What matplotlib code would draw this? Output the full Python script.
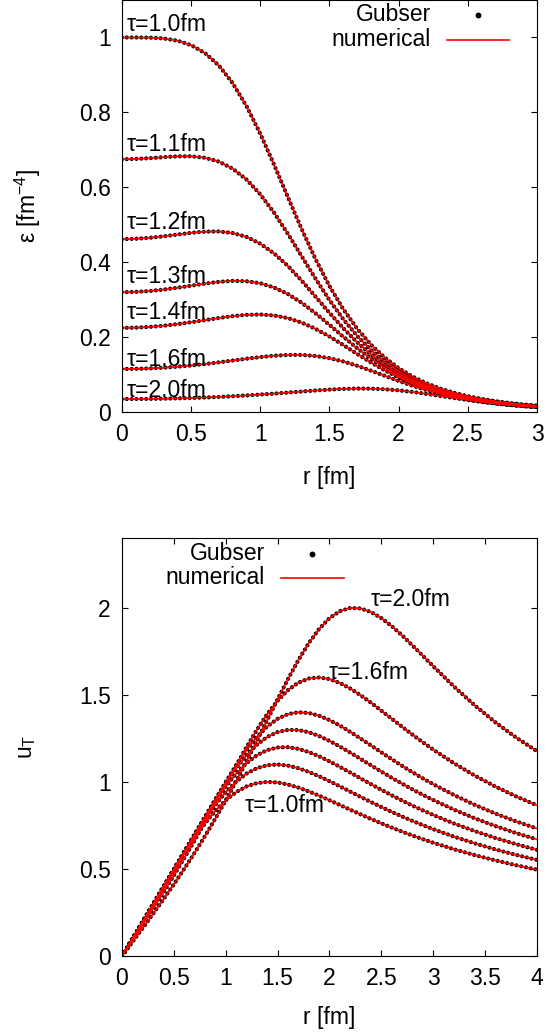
import matplotlib
matplotlib.use('Agg')
import matplotlib.pyplot as plt
from matplotlib.ticker import FormatStrFormatter

plt.rcParams['font.family'] = ['Liberation Sans', 'DejaVu Sans']
plt.rcParams['mathtext.fontset'] = 'custom'
plt.rcParams['mathtext.rm'] = 'Liberation Sans'
plt.rcParams['mathtext.it'] = 'Liberation Sans:italic'
plt.rcParams['mathtext.default'] = 'regular'

# ---------------- data ----------------
tau_labels = ['τ=1.0fm', 'τ=1.1fm', 'τ=1.2fm', 'τ=1.3fm', 'τ=1.4fm', 'τ=1.6fm', 'τ=2.0fm']

r_eps = [0.0, 0.1, 0.2, 0.3, 0.4, 0.5, 0.6, 0.7, 0.8, 0.9, 1.0, 1.1, 1.2, 1.3, 1.4, 1.5,
         1.6, 1.7, 1.8, 1.9, 2.0, 2.1, 2.2, 2.3, 2.4, 2.5, 2.6, 2.7, 2.8, 2.9, 3.0]

eps_t10 = [1.0000, 1.0000, 0.9995, 0.9973, 0.9915, 0.9795, 0.9584, 0.9252, 0.8781, 0.8167, 0.7427,
           0.6598, 0.5730, 0.4875, 0.4076, 0.3361, 0.2743, 0.2224, 0.1796, 0.1449, 0.1170,
           0.0946, 0.0768, 0.0625, 0.0512, 0.0421, 0.0348, 0.0289, 0.0241, 0.0202, 0.0170]
eps_t11 = [0.6748, 0.6756, 0.6776, 0.6803, 0.6825, 0.6827, 0.6788, 0.6685, 0.6497, 0.6207, 0.5810,
           0.5317, 0.4753, 0.4152, 0.3553, 0.2986, 0.2475, 0.2030, 0.1654, 0.1342, 0.1087,
           0.0881, 0.0716, 0.0583, 0.0477, 0.0391, 0.0323, 0.0268, 0.0223, 0.0186, 0.0157]
eps_t12 = [0.4615, 0.4624, 0.4650, 0.4689, 0.4736, 0.4783, 0.4815, 0.4820, 0.4778, 0.4674, 0.4493,
           0.4232, 0.3896, 0.3502, 0.3076, 0.2646, 0.2235, 0.1861, 0.1534, 0.1255, 0.1023,
           0.0832, 0.0677, 0.0552, 0.0451, 0.0370, 0.0305, 0.0252, 0.0210, 0.0175, 0.0147]
eps_t13 = [0.3198, 0.3206, 0.3229, 0.3267, 0.3316, 0.3372, 0.3428, 0.3474, 0.3500, 0.3491, 0.3436,
           0.3323, 0.3147, 0.2913, 0.2632, 0.2324, 0.2008, 0.1704, 0.1426, 0.1180, 0.0969,
           0.0793, 0.0647, 0.0528, 0.0432, 0.0354, 0.0292, 0.0241, 0.0200, 0.0167, 0.0140]
eps_t14 = [0.2245, 0.2251, 0.2271, 0.2302, 0.2345, 0.2396, 0.2452, 0.2508, 0.2558, 0.2593, 0.2602,
           0.2576, 0.2505, 0.2385, 0.2218, 0.2014, 0.1786, 0.1550, 0.1321, 0.1110, 0.0922,
           0.0760, 0.0624, 0.0511, 0.0419, 0.0343, 0.0282, 0.0233, 0.0193, 0.0161, 0.0134]
eps_t16 = [0.1148, 0.1152, 0.1163, 0.1182, 0.1208, 0.1241, 0.1280, 0.1325, 0.1373, 0.1421, 0.1466,
           0.1502, 0.1523, 0.1523, 0.1495, 0.1436, 0.1348, 0.1234, 0.1103, 0.0965, 0.0828,
           0.0700, 0.0586, 0.0486, 0.0401, 0.0331, 0.0273, 0.0225, 0.0186, 0.0154, 0.0128]
eps_t20 = [0.0345, 0.0346, 0.0349, 0.0355, 0.0363, 0.0373, 0.0386, 0.0401, 0.0420, 0.0441, 0.0464,
           0.0490, 0.0518, 0.0546, 0.0573, 0.0597, 0.0615, 0.0624, 0.0622, 0.0606, 0.0577,
           0.0535, 0.0484, 0.0428, 0.0372, 0.0318, 0.0269, 0.0225, 0.0188, 0.0156, 0.0130]

r_u = [0.0, 0.1, 0.2, 0.3, 0.4, 0.5, 0.6, 0.7, 0.8, 0.9, 1.0, 1.1, 1.2, 1.3, 1.4, 1.5,
       1.6, 1.7, 1.8, 1.9, 2.0, 2.1, 2.2, 2.3, 2.4, 2.5, 2.6, 2.7, 2.8, 2.9, 3.0,
       3.2, 3.4, 3.6, 3.8, 4.0]

u_t10 = [0.0, 0.1000, 0.2000, 0.2997, 0.3987, 0.4961, 0.5905, 0.6799, 0.7619, 0.8342, 0.8944,
         0.9412, 0.9738, 0.9930, 0.9999, 0.9966, 0.9850, 0.9674, 0.9455, 0.9208, 0.8944,
         0.8674, 0.8402, 0.8134, 0.7872, 0.7619, 0.7376, 0.7143, 0.6921, 0.6709, 0.6508,
         0.6134, 0.5796, 0.5491, 0.5213, 0.4961]
u_t11 = [0.0, 0.0996, 0.1994, 0.2996, 0.3999, 0.4999, 0.5986, 0.6944, 0.7851, 0.8683, 0.9412,
         1.0014, 1.0474, 1.0786, 1.0956, 1.0999, 1.0935, 1.0786, 1.0576, 1.0322, 1.0041,
         0.9744, 0.9442, 0.9140, 0.8844, 0.8556, 0.8278, 0.8012, 0.7757, 0.7515, 0.7284,
         0.6856, 0.6470, 0.6121, 0.5806, 0.5520]
u_t12 = [0.0, 0.0984, 0.1973, 0.2969, 0.3973, 0.4984, 0.5997, 0.6999, 0.7972, 0.8895, 0.9738,
         1.0474, 1.1077, 1.1530, 1.1828, 1.1976, 1.1992, 1.1896, 1.1714, 1.1469, 1.1180,
         1.0864, 1.0535, 1.0201, 0.9869, 0.9545, 0.9230, 0.8928, 0.8638, 0.8362, 0.8099,
         0.7612, 0.7173, 0.6778, 0.6421, 0.6098]
u_t13 = [0.0, 0.0967, 0.1940, 0.2923, 0.3919, 0.4930, 0.5952, 0.6979, 0.7999, 0.8991, 0.9930,
         1.0786, 1.1530, 1.2134, 1.2580, 1.2862, 1.2989, 1.2978, 1.2851, 1.2635, 1.2354,
         1.2030, 1.1680, 1.1317, 1.0952, 1.0590, 1.0237, 0.9896, 0.9569, 0.9256, 0.8958,
         0.8406, 0.7909, 0.7463, 0.7060, 0.6697]
u_t14 = [0.0, 0.0947, 0.1900, 0.2865, 0.3846, 0.4847, 0.5867, 0.6903, 0.7948, 0.8987, 0.9999,
         1.0956, 1.1828, 1.2580, 1.3184, 1.3624, 1.3892, 1.3997, 1.3958, 1.3800, 1.3550,
         1.3234, 1.2874, 1.2489, 1.2093, 1.1695, 1.1304, 1.0922, 1.0555, 1.0203, 0.9867,
         0.9244, 0.8683, 0.8180, 0.7728, 0.7321]
u_t16 = [0.0, 0.0900, 0.1807, 0.2726, 0.3665, 0.4627, 0.5618, 0.6639, 0.7689, 0.8763, 0.9850,
         1.0935, 1.1992, 1.2989, 1.3892, 1.4663, 1.5272, 1.5698, 1.5937, 1.5999, 1.5904,
         1.5682, 1.5363, 1.4976, 1.4545, 1.4090, 1.3627, 1.3165, 1.2712, 1.2274, 1.1853,
         1.1069, 1.0362, 0.9729, 0.9162, 0.8654]
u_t20 = [0.0, 0.0801, 0.1608, 0.2426, 0.3262, 0.4120, 0.5008, 0.5929, 0.6890, 0.7894, 0.8944,
         1.0041, 1.1180, 1.2354, 1.3550, 1.4743, 1.5904, 1.6994, 1.7968, 1.8783, 1.9403,
         1.9806, 1.9987, 1.9960, 1.9754, 1.9403, 1.8944, 1.8413, 1.7837, 1.7241, 1.6641,
         1.5475, 1.4394, 1.3416, 1.2542, 1.1763]

eps_series = [eps_t10, eps_t11, eps_t12, eps_t13, eps_t14, eps_t16, eps_t20]
u_series = [u_t10, u_t11, u_t12, u_t13, u_t14, u_t16, u_t20]

eps_xticks = [0, 0.5, 1, 1.5, 2, 2.5, 3]
eps_yticks = [0, 0.2, 0.4, 0.6, 0.8, 1]
u_xticks = [0, 0.5, 1, 1.5, 2, 2.5, 3, 3.5, 4]
u_yticks = [0, 0.5, 1, 1.5, 2]

# ---------------- layout ----------------
FS = 16.5
eps_label_pos = [(0.03, 1.034), (0.03, 0.714), (0.03, 0.506), (0.03, 0.362),
                 (0.03, 0.266), (0.03, 0.141), (0.03, 0.058)]
u_label_idx = [0, 5, 6]
u_label_pos = [(1.18, 0.867), (1.99, 1.63), (2.40, 2.046)]

fig = plt.figure(figsize=(5.47, 10.33), dpi=100)
ax1 = fig.add_axes([0.2230, 0.6012, 0.7587, 0.3988])
ax2 = fig.add_axes([0.2230, 0.0745, 0.7587, 0.4046])

dot_kw = dict(color='black', lw=3.0, ls=(0, (0.01, 1.15)), dash_capstyle='round')
line_kw = dict(color='#ff0000', lw=1.2)

for ys in eps_series:
    ax1.plot(r_eps, ys, **dot_kw)
for ys in eps_series:
    ax1.plot(r_eps, ys, **line_kw)
for ys in u_series:
    ax2.plot(r_u, ys, **dot_kw)
for ys in u_series:
    ax2.plot(r_u, ys, **line_kw)

for lab, (x, y) in zip(tau_labels, eps_label_pos):
    ax1.text(x, y, lab, fontsize=FS, ha='left', va='center')
for i, (x, y) in zip(u_label_idx, u_label_pos):
    ax2.text(x, y, tau_labels[i], fontsize=FS, ha='left', va='center')

ax1.set_xlim(0, 3)
ax1.set_ylim(0, 1.1)
ax2.set_xlim(0, 4)
ax2.set_ylim(0, 2.4)
ax1.set_xticks(eps_xticks)
ax1.set_yticks(eps_yticks)
ax2.set_xticks(u_xticks)
ax2.set_yticks(u_yticks)

for ax in (ax1, ax2):
    ax.xaxis.set_major_formatter(FormatStrFormatter('%g'))
    ax.yaxis.set_major_formatter(FormatStrFormatter('%g'))
    ax.tick_params(direction='in', length=4, width=0.8, top=True, right=True,
                   labelsize=FS, pad=8)
    for s in ax.spines.values():
        s.set_linewidth(0.8)

ax1.set_xlabel('r [fm]', fontsize=FS, va='center')
ax1.xaxis.set_label_coords(0.5, -0.158)
ax1.set_ylabel('ε [fm$^{-4}$]', fontsize=FS, va='center')
ax1.yaxis.set_label_coords(-0.2265, 0.5)

ax2.set_xlabel('r [fm]', fontsize=FS, va='center')
ax2.xaxis.set_label_coords(0.5, -0.146)
ax2.set_ylabel('u$_\\mathrm{T}$', fontsize=FS, va='center')
ax2.yaxis.set_label_coords(-0.229, 0.5)

# legends (gnuplot style: text right aligned, sample on the right)
ax1.text(0.745, 0.964, 'Gubser', ha='right', va='center', fontsize=FS, transform=ax1.transAxes)
ax1.plot([0.859], [0.964], 'o', ms=3.2, color='black', transform=ax1.transAxes)
ax1.text(0.745, 0.903, 'numerical', ha='right', va='center', fontsize=FS, transform=ax1.transAxes)
ax1.plot([0.784, 0.933], [0.903, 0.903], color='#ff0000', lw=1.2, transform=ax1.transAxes)

ax2.text(0.345, 0.962, 'Gubser', ha='right', va='center', fontsize=FS, transform=ax2.transAxes)
ax2.plot([0.459], [0.962], 'o', ms=3.2, color='black', transform=ax2.transAxes)
ax2.text(0.345, 0.905, 'numerical', ha='right', va='center', fontsize=FS, transform=ax2.transAxes)
ax2.plot([0.383, 0.535], [0.905, 0.905], color='#ff0000', lw=1.2, transform=ax2.transAxes)

fig.savefig('out.png', dpi=100)
